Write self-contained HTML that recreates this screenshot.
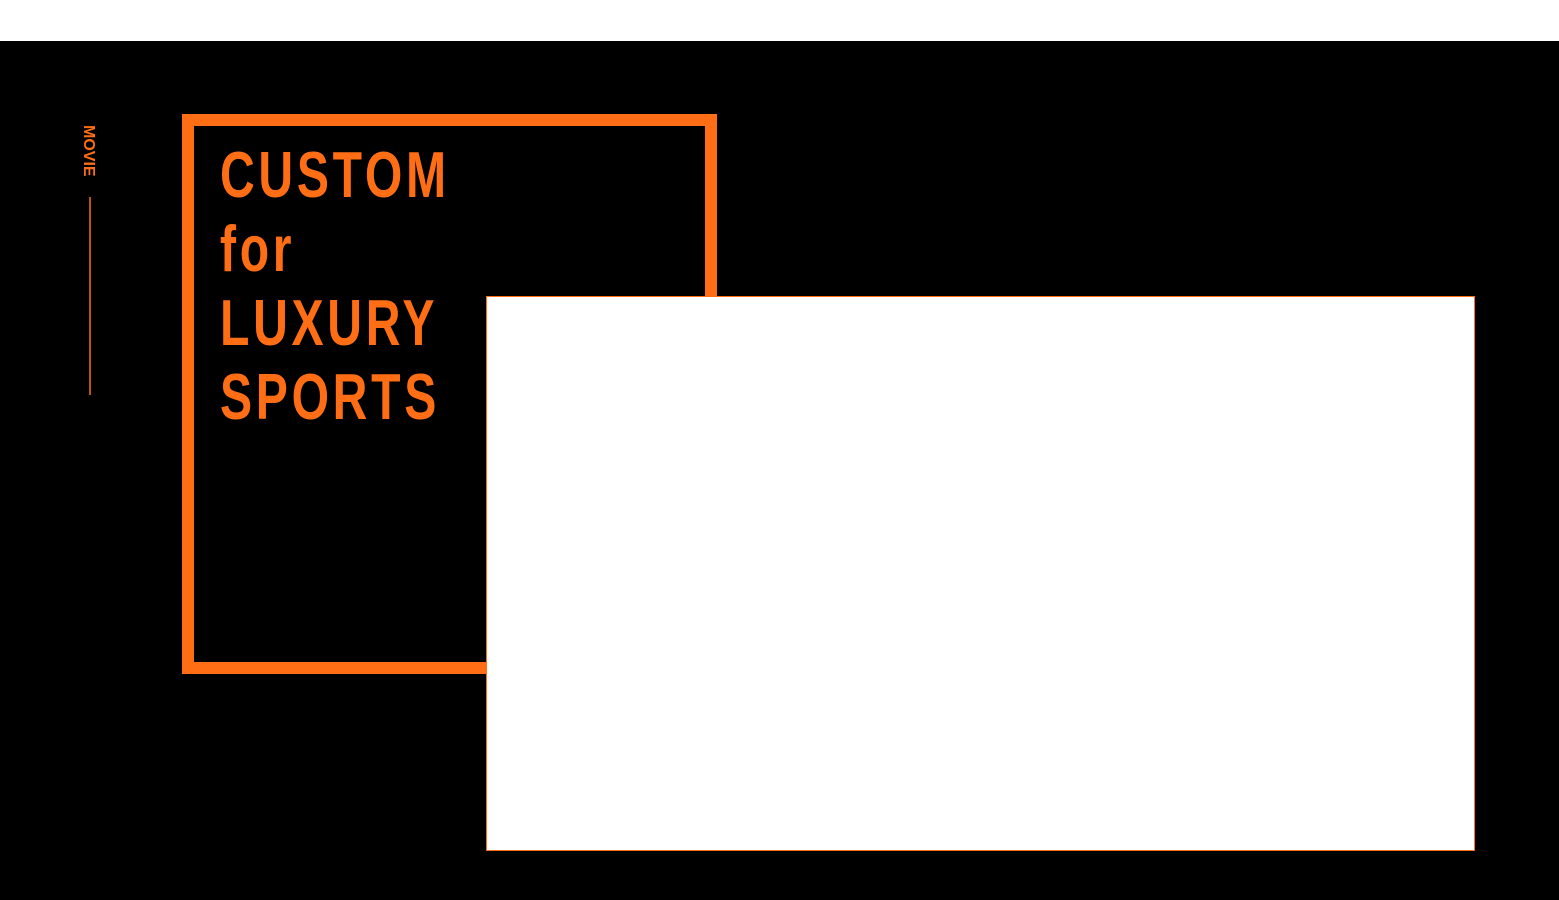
<!DOCTYPE html>
<html><head><style>
body{margin:0;width:1559px;height:900px;background:#fff;position:relative;overflow:hidden;font-family:"Liberation Sans",sans-serif}
.bg{position:absolute;left:0;top:41px;width:1559px;height:859px;background:#000}
.box{position:absolute;left:182px;top:114px;width:511px;height:536px;border:12px solid #ff6e14}
.t{position:absolute;left:220px;color:#ff6e14;font-family:"Liberation Sans",sans-serif;font-weight:bold;font-size:65px;line-height:1;letter-spacing:5px;transform:scaleX(0.74);transform-origin:0 0;white-space:nowrap}
.movie{position:absolute;left:79px;top:125px;color:#ff6e14;font-family:"Liberation Sans",sans-serif;font-weight:bold;font-size:16px;writing-mode:vertical-rl;letter-spacing:0px}
.line{position:absolute;left:89px;top:197px;width:2px;height:198px;background:#b9550f}
.white{position:absolute;left:486px;top:296px;width:987px;height:553px;background:#fff;border:1px solid #ff6e14}
</style></head><body>
<div class="bg"></div>
<div class="movie">MOVIE</div>
<div class="line"></div>
<div class="box"></div>
<div class="t" style="top:142px">CUSTOM</div>
<div class="t" style="top:216px">for</div>
<div class="t" style="top:290px">LUXURY</div>
<div class="t" style="top:364px">SPORTS</div>
<div class="white"></div>
</body></html>
